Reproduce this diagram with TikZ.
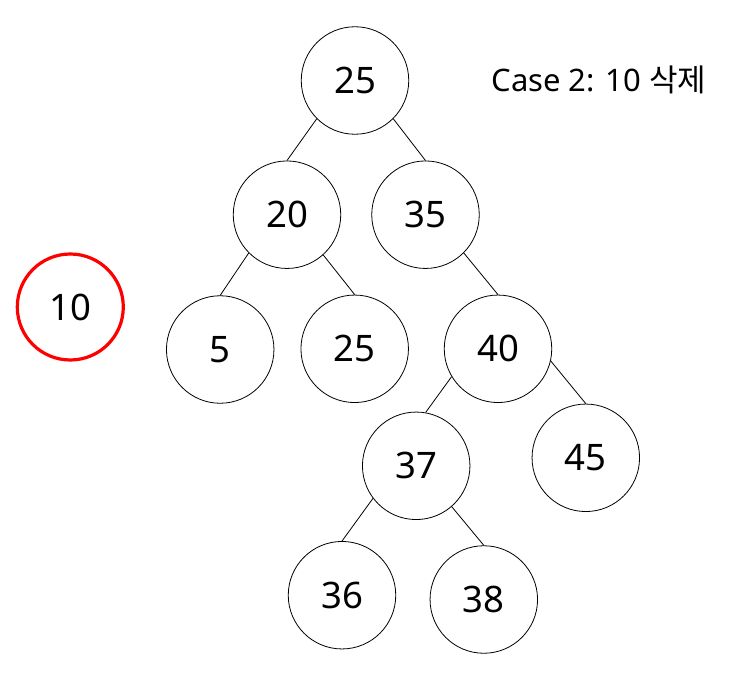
\documentclass[tikz,border=0pt]{standalone}
\usepackage{fontspec}
\setmainfont{Noto Sans}
\newfontfamily\kr{Noto Sans CJK KR}
\usepackage{tikz}

\begin{document}
\begin{tikzpicture}[x=1pt,y=-1pt,
    key/.style={circle, draw=black, line width=0.8pt, minimum size=107.5pt, inner sep=0pt, font=\fontsize{36.5}{40}\selectfont},
    gone/.style={key, draw=red, line width=3.2pt, minimum size=106pt},
    link/.style={line width=0.8pt}]
    \useasboundingbox (0,0) rectangle (731,682);
    % tree keys
    \node[key] (r25) at (355,80.5) {25};
    \node[key] (n20) at (287,214.7) {20};
    \node[key] (n35) at (425.5,214.7) {35};
    \node[key] (n5) at (220.2,349.5) {5};
    \node[key] (n25) at (354.7,348.8) {25};
    \node[key] (n40) at (498,348.8) {40};
    \node[key] (n37) at (416.2,465.8) {37};
    \node[key] (n45) at (585.8,457.8) {45};
    \node[key] (n36) at (342,595.2) {36};
    \node[key] (n38) at (483.8,599.5) {38};
    % deleted key
    \node[gone] (n10) at (70.3,307) {10};
    \node[anchor=base west, font=\fontsize{31}{36}\selectfont] (cap) at (488,91.5) {Case 2: 10 {\kr 삭제}};
    % links
    \draw[link] (r25.south west) -- (n20.north);
    \draw[link] (r25.south east) -- (n35.north);
    \draw[link] (n20.south west) -- (n5.north);
    \draw[link] (n20.-48) -- (n25.north);
    \draw[link] (n35.south east) -- (n40.north);
    \draw[link] (n40.211) -- (n37.80);
    \draw[link] (n40.-13) -- (n45.north);
    \draw[link] (n37.217) -- (n36.north);
    \draw[link] (n37.-49) -- (n38.north);
\end{tikzpicture}
\end{document}
